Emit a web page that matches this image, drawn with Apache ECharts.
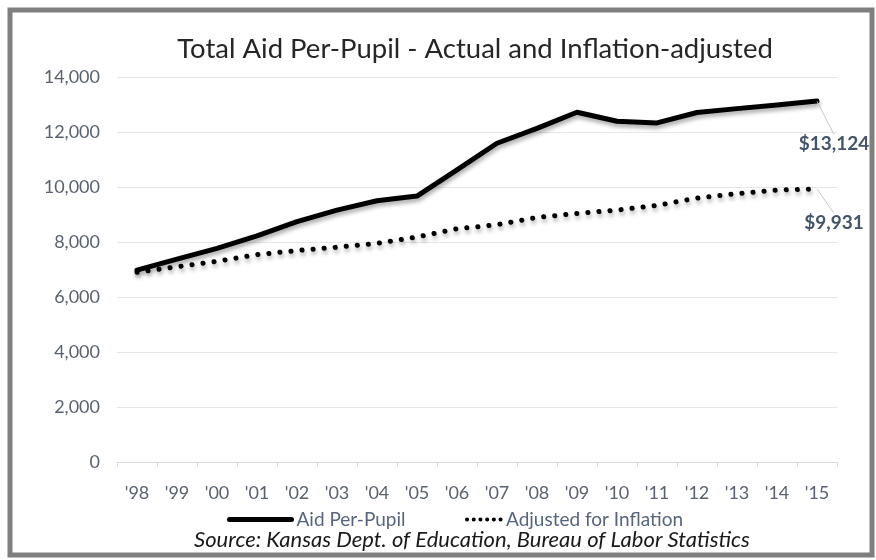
<!DOCTYPE html>
<html>
<head>
<meta charset="utf-8">
<script src="https://cdn.jsdelivr.net/npm/echarts@6/dist/echarts.min.js"></script>
<style>html,body{margin:0;padding:0;background:#fff;}#c{width:876px;height:560px;}</style>
</head>
<body>
<div id="c"></div>
<script>
var years = ["'98","'99","'00","'01","'02","'03","'04","'05","'06","'07","'08","'09","'10","'11","'12","'13","'14","'15"];
var aidPerPupil = [6980, 7380, 7770, 8220, 8740, 9160, 9500, 9670, 10620, 11590, 12130, 12720, 12390, 12330, 12710, 12850, 12980, 13124];
var adjustedForInflation = [6900, 7100, 7300, 7540, 7690, 7810, 7950, 8180, 8480, 8630, 8890, 9040, 9160, 9330, 9600, 9760, 9890, 9931];
var yTicks = [0, 2000, 4000, 6000, 8000, 10000, 12000, 14000];
var seriesNames = ['Aid Per-Pupil', 'Adjusted for Inflation'];
var titleText = 'Total Aid Per-Pupil - Actual and Inflation-adjusted';
var sourceText = 'Source: Kansas Dept. of Education, Bureau of Labor Statistics';

var FONT = 'Lato, "Open Sans", sans-serif';
var chart = echarts.init(document.getElementById('c'), null, {renderer: 'canvas'});

function withEndLabel(arr) {
  return arr.map(function (v, i) {
    if (i !== arr.length - 1) return v;
    return {
      value: v,
      label: {
        show: true,
        position: 'inside',
        formatter: function (p) { return '$' + p.value.toLocaleString('en-US'); },
        fontFamily: FONT, fontWeight: 'bold', fontSize: 19, color: '#44546A'
      }
    };
  });
}

var shadow = {shadowColor: 'rgba(0,0,0,0.35)', shadowBlur: 4, shadowOffsetX: 1, shadowOffsetY: 3};
var noShadow = {shadowBlur: 0, shadowOffsetX: 0, shadowOffsetY: 0, shadowColor: 'rgba(0,0,0,0)'};

chart.setOption({
  animation: false,
  backgroundColor: '#fff',
  title: [
    {text: titleText, left: 470, top: 30, textAlign: 'center',
     textStyle: {fontFamily: FONT, fontWeight: 'normal', fontSize: 27.5, color: '#262626'}},
    {text: sourceText, left: 467, top: 524, textAlign: 'center',
     textStyle: {fontFamily: FONT, fontStyle: 'italic', fontWeight: 'normal', fontSize: 22, color: '#1a1a1a'}}
  ],
  legend: [
    {data: [seriesNames[0]], left: 222, top: 505, itemWidth: 62, itemHeight: 12, itemGap: 0,
     lineStyle: Object.assign({width: 5}, noShadow),
     itemStyle: {opacity: 0},
     textStyle: {fontFamily: FONT, fontSize: 19, color: '#56657d'}},
    {data: [seriesNames[1]], left: 460, top: 505, itemWidth: 34, itemHeight: 12, itemGap: 0,
     lineStyle: Object.assign({width: 4, type: [0.1, 6.6], cap: 'round'}, noShadow),
     itemStyle: {opacity: 0},
     textStyle: {fontFamily: FONT, fontSize: 19, color: '#56657d'}}
  ],
  grid: {left: 117, right: 39, top: 77, bottom: 98, containLabel: false},
  xAxis: {
    type: 'category', data: years, boundaryGap: true,
    axisLine: {lineStyle: {color: '#d9d9d9', width: 1}},
    axisTick: {show: true, length: 5, lineStyle: {color: '#d9d9d9'}},
    axisLabel: {fontFamily: FONT, fontSize: 18, color: '#5a6270', margin: 22}
  },
  yAxis: {
    type: 'value', min: yTicks[0], max: yTicks[yTicks.length - 1], interval: yTicks[1] - yTicks[0],
    axisLine: {show: false}, axisTick: {show: false},
    splitLine: {lineStyle: {color: '#e6e6e6', width: 1}},
    axisLabel: {fontFamily: FONT, fontSize: 18, color: '#5a6270', margin: 17,
      formatter: function (v) { return v.toLocaleString('en-US'); }}
  },
  series: [
    {
      name: seriesNames[0], type: 'line', data: withEndLabel(aidPerPupil),
      symbol: 'circle', symbolSize: 1, showSymbol: true,
      itemStyle: {color: 'rgba(0,0,0,0)'},
      lineStyle: Object.assign({color: '#000', width: 5, cap: 'round', join: 'round'}, shadow),
      labelLine: {show: true, lineStyle: {color: '#c8c8c8', width: 1}},
      labelLayout: {dx: 17, dy: 43}
    },
    {
      name: seriesNames[1], type: 'line', data: withEndLabel(adjustedForInflation),
      symbol: 'circle', symbolSize: 1, showSymbol: true,
      itemStyle: {color: 'rgba(0,0,0,0)'},
      lineStyle: Object.assign({color: '#000', width: 5, type: [0.1, 11], cap: 'round', join: 'round'}, shadow),
      labelLine: {show: true, lineStyle: {color: '#c8c8c8', width: 1}},
      labelLayout: {dx: 17, dy: 34}
    }
  ],
  graphic: [
    {type: 'rect', z: 100, silent: true, shape: {x: 10, y: 10, width: 862, height: 545},
     style: {fill: 'none', stroke: '#7f7f7f', lineWidth: 5}}
  ]
});
</script>
</body>
</html>
